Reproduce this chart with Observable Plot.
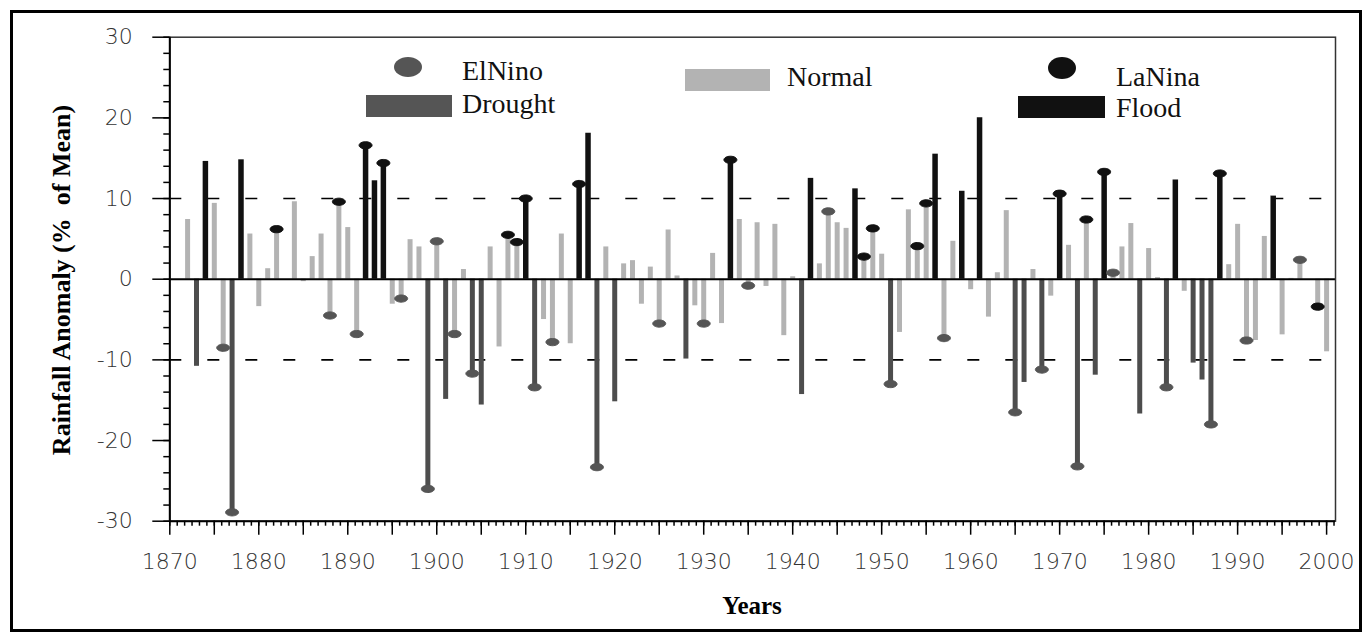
<!DOCTYPE html>
<html>
<head>
<meta charset="utf-8">
<script src="https://cdn.jsdelivr.net/npm/d3@7"></script>
<script src="https://cdn.jsdelivr.net/npm/@observablehq/plot@0.6"></script>
<style>
  html, body { margin: 0; padding: 0; background: #fff; }
  #wrap { position: relative; width: 1362px; height: 632px; overflow: hidden; }
  #chart { position: absolute; left: 0; top: 0; }
  .border { position: absolute; left: 10px; top: 10px; width: 1346px; height: 616px; border: 3px solid #000; pointer-events: none; }
  .lg { position: absolute; }
  .lgt { position: absolute; font-family: "Liberation Serif", "Times New Roman", serif; font-size: 28px; line-height: 28px; color: #111; white-space: nowrap; }
  .ytitle { position: absolute; left: 62px; top: 280px; transform: translate(-50%, -50%) rotate(-90deg); font-family: "Liberation Serif", serif; font-weight: bold; font-size: 26px; white-space: pre; color: #000; }
  .xtitle { position: absolute; left: 752px; top: 606px; transform: translate(-50%, -50%); font-family: "Liberation Serif", serif; font-weight: bold; font-size: 25px; color: #000; }
</style>
</head>
<body>
<div id="wrap">
  <div id="chart"></div>
  <div class="border"></div>
  <div class="ytitle">Rainfall Anomaly (%  of Mean)</div>
  <div class="xtitle">Years</div>
  <div class="lg" style="left:394px;top:57px;width:28px;height:20px;border-radius:50%;background:#555;"></div>
  <div class="lgt" style="left:462px;top:57px;">ElNino</div>
  <div class="lg" style="left:366px;top:95px;width:86px;height:22px;background:#555;"></div>
  <div class="lgt" style="left:462px;top:90px;">Drought</div>
  <div class="lg" style="left:685px;top:69px;width:85px;height:22px;background:#b3b3b3;"></div>
  <div class="lgt" style="left:787px;top:63px;">Normal</div>
  <div class="lg" style="left:1048px;top:57px;width:28px;height:22px;border-radius:50%;background:#111;"></div>
  <div class="lgt" style="left:1116px;top:63px;">LaNina</div>
  <div class="lg" style="left:1018px;top:96px;width:87px;height:22px;background:#111;"></div>
  <div class="lgt" style="left:1116px;top:94px;">Flood</div>
</div>
<script>
// Years 1872-2000 (1883 and 1998 were not visible, near zero)
const years = [
  1872,1873,1874,1875,1876,1877,1878,1879,1880,1881,1882,1883,1884,1885,1886,1887,1888,1889,1890,
  1891,1892,1893,1894,1895,1896,1897,1898,1899,1900,1901,1902,1903,1904,1905,1906,1907,1908,1909,1910,
  1911,1912,1913,1914,1915,1916,1917,1918,1919,1920,1921,1922,1923,1924,1925,1926,1927,1928,1929,1930,
  1931,1932,1933,1934,1935,1936,1937,1938,1939,1940,1941,1942,1943,1944,1945,1946,1947,1948,1949,1950,
  1951,1952,1953,1954,1955,1956,1957,1958,1959,1960,1961,1962,1963,1964,1965,1966,1967,1968,1969,1970,
  1971,1972,1973,1974,1975,1976,1977,1978,1979,1980,1981,1982,1983,1984,1985,1986,1987,1988,1989,1990,
  1991,1992,1993,1994,1995,1996,1997,1998,1999,2000
];
// Rainfall anomaly (% of mean)
const anomaly = [
  7.4,-10.8,14.6,9.4,-8.5,-28.9,14.8,5.6,-3.4,1.3,6.2,0,9.6,-0.3,2.8,5.6,-4.5,9.6,6.4,
  -6.8,16.6,12.2,14.4,-3.1,-2.4,4.9,4.0,-26.0,4.7,-14.9,-6.8,1.2,-11.7,-15.6,4.0,-8.4,5.5,4.6,10.0,
  -13.4,-5.0,-7.8,5.6,-8.0,11.8,18.1,-23.3,4.0,-15.2,1.9,2.3,-3.1,1.5,-5.5,6.1,0.4,-9.9,-3.3,-5.5,
  3.2,-5.5,14.8,7.4,-0.8,7.0,-0.9,6.8,-7.0,0.3,-14.3,12.5,1.9,8.4,7.0,6.3,11.2,2.8,6.3,3.1,
  -13.0,-6.6,8.6,4.1,9.4,15.5,-7.3,4.7,10.9,-1.3,20.0,-4.7,0.8,8.5,-16.5,-12.8,1.2,-11.2,-2.1,10.6,
  4.2,-23.2,7.4,-11.9,13.3,0.8,4.0,6.9,-16.7,3.8,0.2,-13.4,12.3,-1.5,-10.4,-12.5,-18.0,13.1,1.8,6.8,
  -7.6,-7.6,5.3,10.3,-6.9,0.1,2.4,0,-3.4,-9.0
];
const droughtYears = [1873,1877,1899,1901,1904,1905,1911,1918,1920,1928,1941,1951,1965,1966,1968,1972,1974,1979,1982,1985,1986,1987];
const floodYears = [1874,1878,1892,1893,1894,1910,1916,1917,1933,1942,1947,1956,1959,1961,1970,1975,1983,1988,1994];
const elNinoYears = [1876,1877,1888,1891,1896,1899,1900,1902,1904,1911,1913,1918,1925,1930,1935,1944,1951,1957,1965,1968,1972,1976,1982,1987,1991,1997];
const laNinaYears = [1882,1889,1892,1894,1908,1909,1910,1916,1933,1948,1949,1954,1955,1970,1973,1975,1988,1999];
const yTicks = [-30, -20, -10, 0, 10, 20, 30];
const xTickLabels = [1870,1880,1890,1900,1910,1920,1930,1940,1950,1960,1970,1980,1990,2000];

const data = years.map((year, i) => ({
  year,
  value: anomaly[i],
  cls: droughtYears.includes(year) ? "Drought" : floodYears.includes(year) ? "Flood" : "Normal"
}));
const byYear = new Map(data.map(d => [d.year, d]));
const elNino = elNinoYears.map(y => byYear.get(y));
const laNina = laNinaYears.map(y => byYear.get(y));

const ellipse = {
  draw(ctx, size) {
    const r = Math.sqrt(size / Math.PI);
    const rx = r * 1.3, ry = r * 0.72, k = 0.5523;
    ctx.moveTo(rx, 0);
    ctx.bezierCurveTo(rx, ry * k, rx * k, ry, 0, ry);
    ctx.bezierCurveTo(-rx * k, ry, -rx, ry * k, -rx, 0);
    ctx.bezierCurveTo(-rx, -ry * k, -rx * k, -ry, 0, -ry);
    ctx.bezierCurveTo(rx * k, -ry, rx, -ry * k, rx, 0);
    ctx.closePath();
  }
};

const fiveYear = d3.range(1875, 2001, 10);
const minorX = d3.range(0, 158).map(i => 1870 + i * 5 / 6);
const minorY = d3.range(-30, 31, 2);

const tickFont = {fontFamily: "DejaVu Sans", fontSize: 22, fontWeight: 300};

const chart = Plot.plot({
  width: 1362,
  height: 632,
  marginLeft: 169.3,
  marginRight: 27,
  marginTop: 36.7,
  marginBottom: 111.3,
  style: {background: "transparent", color: "#000"},
  x: {domain: [1870, 2001]},
  y: {domain: [-30, 30]},
  marks: [
    Plot.ruleY([10, -10], {stroke: "#000", strokeWidth: 1.6, strokeDasharray: "12,26"}),
    Plot.ruleX(data.filter(d => d.cls === "Normal"), {x: "year", y1: 0, y2: "value", stroke: "#b3b3b3", strokeWidth: 5}),
    Plot.ruleX(data.filter(d => d.cls === "Drought"), {x: "year", y1: 0, y2: "value", stroke: "#4d4d4d", strokeWidth: 5}),
    Plot.ruleX(data.filter(d => d.cls === "Flood"), {x: "year", y1: 0, y2: "value", stroke: "#111", strokeWidth: 5.5}),
    Plot.ruleY([0], {stroke: "#000", strokeWidth: 2}),
    Plot.dot(elNino, {x: "year", y: "value", r: 5, symbol: ellipse, fill: "#555", stroke: "#555", strokeWidth: 1}),
    Plot.dot(laNina, {x: "year", y: "value", r: 5, symbol: ellipse, fill: "#111", stroke: "#111", strokeWidth: 1}),
    Plot.frame({stroke: "#333", strokeWidth: 1.5}),
    Plot.ruleX([1870], {stroke: "#000", strokeWidth: 2}),
    Plot.ruleY([-30], {stroke: "#000", strokeWidth: 2}),
    Plot.axisY({ticks: minorY, tickSize: 6, tickFormat: () => "", label: null, strokeWidth: 1.5}),
    Plot.axisY({ticks: yTicks, tickSize: 17, tickPadding: 20, tickFormat: d => String(d), label: null, strokeWidth: 1.5, fill: "#333", ...tickFont}),
    Plot.axisX({ticks: minorX, tickSize: 5, tickFormat: () => "", label: null, strokeWidth: 1.5}),
    Plot.axisX({ticks: fiveYear, tickSize: 14, tickFormat: () => "", label: null, strokeWidth: 1.5}),
    Plot.axisX({ticks: xTickLabels, tickSize: 14, tickPadding: 18, tickFormat: d => String(d), label: null, strokeWidth: 1.5, fill: "#333", ...tickFont})
  ]
});
document.getElementById("chart").appendChild(chart);
</script>
</body>
</html>
